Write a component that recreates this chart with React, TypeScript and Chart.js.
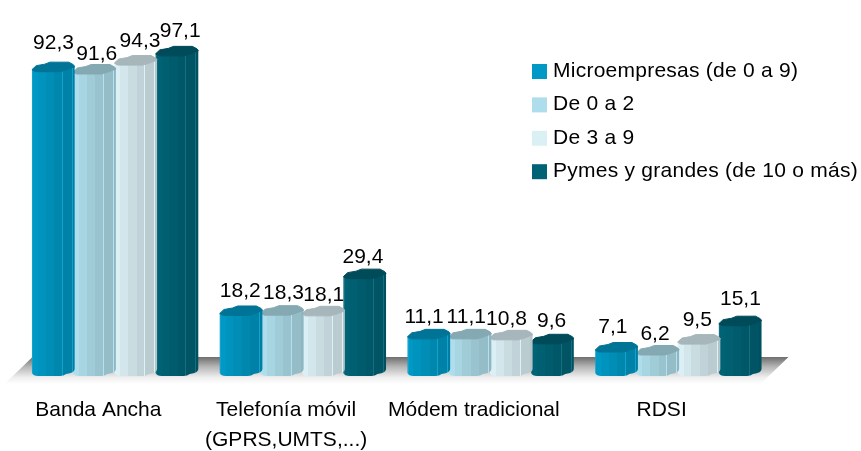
import React, { useEffect, useRef } from "react";
import { Chart, registerables } from "chart.js";

Chart.register(...registerables);

const categories: (string | string[])[] = [
  "Banda Ancha",
  ["Telefonía móvil", "(GPRS,UMTS,...)"],
  "Módem tradicional",
  "RDSI",
];
const microempresas = [92.3, 18.2, 11.1, 7.1];
const de0a2 = [91.6, 18.3, 11.1, 6.2];
const de3a9 = [94.3, 18.1, 10.8, 9.5];
const pymes = [97.1, 29.4, 9.6, 15.1];
const seriesNames = ["Microempresas (de 0 a 9)", "De 0 a 2", "De 3 a 9", "Pymes y grandes (de 10 o más)"];
const seriesColors = ["#0099C6", "#AEDEEB", "#DBF0F5", "#006375"];

const FONT = '"Liberation Sans", Arial, sans-serif';
const FONT_SIZE = 21;

// hand-placed label nudges of the original, [dx, dy] per series and category
const labelNudge: [number, number][][] = [
  [[1, -4], [0, 1], [-4, 3], [-3, 0]],
  [[3, 5], [2, 3], [-3, 3], [-2, 4]],
  [[5, 1], [1, 4], [-4, 4], [-1, 1]],
  [[4, 0], [-1, 3], [0, 2], [1, -2]],
];

function shade(hex: string, f: number) {
  const n = parseInt(hex.slice(1), 16);
  const c = [(n >> 16) & 255, (n >> 8) & 255, n & 255].map((v) =>
    f <= 1 ? Math.round(v * f) : Math.round(v + (255 - v) * (f - 1))
  );
  return `rgb(${c[0]},${c[1]},${c[2]})`;
}

const bands: [number, number, number][] = [
  [0, 0.03, 1.08],
  [0.03, 0.14, 1.0],
  [0.14, 0.32, 0.96],
  [0.32, 0.52, 0.92],
  [0.52, 0.7, 0.88],
  [0.7, 0.72, 1.08],
  [0.72, 0.93, 0.85],
  [0.93, 0.95, 1.08],
  [0.95, 1, 0.82],
];

const cylinderPlugin = {
  id: "cylinder",
  beforeDatasetsDraw(chart: any) {
    const { ctx, chartArea } = chart;
    const yb = chartArea.bottom;
    const top = yb - 18;
    const bottom = yb + 9;
    const g = ctx.createLinearGradient(0, top, 0, bottom);
    g.addColorStop(0, "#6e6e6e");
    g.addColorStop(0.35, "#b4b4b4");
    g.addColorStop(0.75, "#eeeeee");
    g.addColorStop(1, "#ffffff");
    ctx.save();
    ctx.fillStyle = g;
    ctx.beginPath();
    ctx.moveTo(chartArea.left + 12, top);
    ctx.lineTo(chartArea.right + 17, top);
    ctx.lineTo(chartArea.right - 11, bottom);
    ctx.lineTo(chartArea.left - 16, bottom);
    ctx.closePath();
    ctx.fill();
    ctx.restore();
  },
  beforeDatasetDraw(chart: any, args: any) {
    const { ctx, chartArea } = chart;
    const meta = args.meta;
    const color = seriesColors[args.index];
    meta.data.forEach((bar: any) => {
      const w = bar.width;
      const x0 = bar.x - w / 2;
      const x1 = x0 + w + 1.5;
      const t = bar.y + 2;
      const b = chartArea.bottom + 1;
      const W = x1 - x0;
      const grad = ctx.createLinearGradient(x0, 0, x1, 0);
      bands.forEach(([a, z, f]) => {
        grad.addColorStop(a, shade(color, f));
        grad.addColorStop(z, shade(color, f));
      });
      ctx.save();
      ctx.fillStyle = grad;
      ctx.beginPath();
      ctx.moveTo(x0, t);
      ctx.lineTo(x0, b - 3);
      ctx.quadraticCurveTo(x0 + 0.03 * W, b, x0 + 0.14 * W, b);
      ctx.lineTo(x0 + 0.66 * W, b);
      ctx.quadraticCurveTo(x0 + 0.74 * W, b, x0 + 0.8 * W, b - 2);
      ctx.quadraticCurveTo(x1, b - 3, x1, b - 7);
      ctx.lineTo(x1, t - 4);
      ctx.closePath();
      ctx.fill();
      const cap = shade(color, 0.76);
      ctx.fillStyle = cap;
      ctx.strokeStyle = cap;
      ctx.lineJoin = "round";
      ctx.lineWidth = 1;
      ctx.beginPath();
      ctx.moveTo(x0, t);
      ctx.lineTo(x0 + 0.1 * W, t - 4);
      ctx.lineTo(x0 + 0.3 * W, t - 5.5);
      ctx.lineTo(x0 + 0.42 * W, t - 7.5);
      ctx.lineTo(x0 + 0.86 * W, t - 7.5);
      ctx.lineTo(x1 - 0.03 * W, t - 5);
      ctx.lineTo(x1, t - 3);
      ctx.lineTo(x0 + 0.82 * W, t);
      ctx.lineTo(x0 + 0.66 * W, t + 2);
      ctx.lineTo(x0 + 0.08 * W, t + 2);
      ctx.closePath();
      ctx.fill();
      ctx.stroke();
      ctx.restore();
    });
    return false;
  },
  afterDatasetsDraw(chart: any) {
    const { ctx } = chart;
    ctx.save();
    ctx.fillStyle = "#000";
    ctx.font = `${FONT_SIZE}px ${FONT}`;
    ctx.textAlign = "center";
    ctx.textBaseline = "alphabetic";
    chart.data.datasets.forEach((ds: any, i: number) => {
      chart.getDatasetMeta(i).data.forEach((bar: any, j: number) => {
        const text = ds.data[j].toFixed(1).replace(".", ",");
        const [dx, dy] = labelNudge[i][j];
        ctx.fillText(text, bar.x + dx, bar.y - 15 + dy);
      });
    });
    ctx.restore();
    // legend
    const lx = chart.chartArea.right - 239.5;
    ctx.save();
    ctx.font = `${FONT_SIZE}px ${FONT}`;
    ctx.textBaseline = "middle";
    ctx.textAlign = "left";
    (ctx as any).letterSpacing = "0.25px";
    chart.data.datasets.forEach((ds: any, i: number) => {
      const cy = 71 + i * 33.4;
      ctx.fillStyle = ds.backgroundColor;
      ctx.fillRect(lx, cy - 7, 15, 15);
      ctx.fillStyle = "#000";
      ctx.fillText(ds.label, lx + 21, cy);
    });
    ctx.restore();
  },
};

export default function App() {
  const ref = useRef<HTMLCanvasElement>(null);
  useEffect(() => {
    document.body.style.margin = "0";
    const series = [microempresas, de0a2, de3a9, pymes];
    const chart = new Chart(ref.current!, {
      type: "bar",
      data: {
        labels: categories as any,
        datasets: series.map((data, i) => ({
          label: seriesNames[i],
          data,
          backgroundColor: seriesColors[i],
          categoryPercentage: 0.878,
          barPercentage: 1,
        })),
      },
      options: {
        responsive: false,
        animation: false,
        layout: { padding: { left: 20.5, right: 89.5, top: 42, bottom: 0 } },
        plugins: { legend: { display: false }, tooltip: { enabled: false }, title: { display: false } },
        scales: {
          x: {
            grid: { display: false },
            border: { display: false },
            ticks: {
              color: "#000",
              maxRotation: 0,
              autoSkip: false,
              padding: 12,
              labelOffset: -16,
              font: { family: FONT, size: FONT_SIZE, lineHeight: 1.43 },
            },
            afterFit: (s: any) => {
              s.height = 76;
            },
          },
          y: { display: false, min: -1.1, max: 100.1 },
        },
      },
      plugins: [cylinderPlugin as any],
    });
    return () => chart.destroy();
  }, []);
  return <canvas ref={ref} width={861} height={451} style={{ display: "block" }} />;
}
